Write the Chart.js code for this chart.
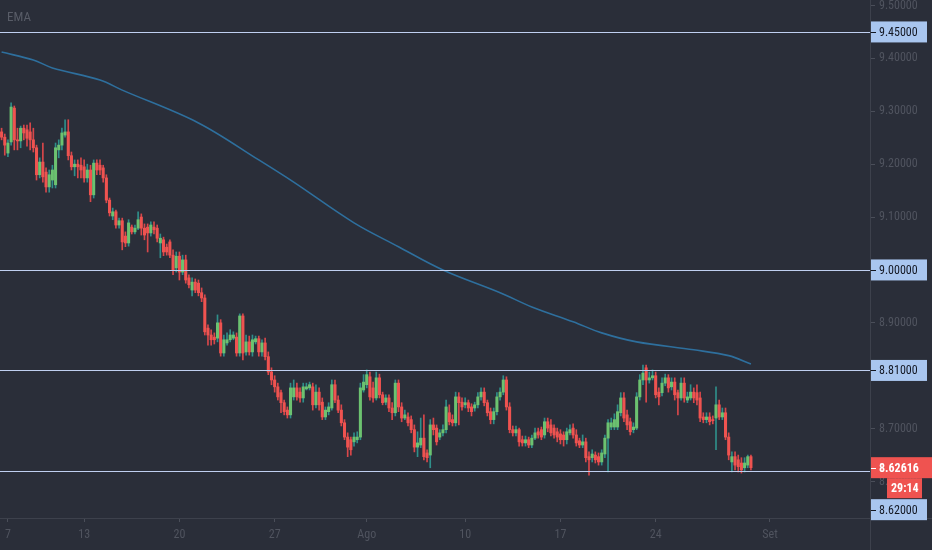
<!DOCTYPE html>
<html>
<head>
<meta charset="utf-8">
<title>EMA</title>
<script src="https://cdn.jsdelivr.net/npm/chart.js@4.4.0/dist/chart.umd.min.js"></script>
<style>
  html, body { margin: 0; padding: 0; background: #2a2e39; }
  #wrap { width: 932px; height: 550px; }
</style>
</head>
<body>
<div id="wrap"><canvas id="chart" width="932" height="550"></canvas></div>
<script>
// 4h candles, 7 Jul -> 31 Aug
const opens = [
  9.261,9.251,9.221,9.242,9.306,9.246,9.244,9.268,9.265,9.261,
  9.246,9.231,9.180,9.204,9.185,9.157,9.170,9.161,9.227,9.236,
  9.255,9.261,9.216,9.195,9.200,9.198,9.195,9.174,9.189,9.142,
  9.202,9.198,9.193,9.174,9.132,9.102,9.110,9.085,9.093,9.064,
  9.051,9.081,9.072,9.079,9.100,9.079,9.081,9.070,9.081,9.079,
  9.051,9.057,9.043,9.053,9.028,9.004,9.026,8.996,9.019,8.985,
  8.962,8.977,8.975,8.957,8.947,8.890,8.877,8.873,8.871,8.900,
  8.843,8.862,8.868,8.871,8.873,8.843,8.913,8.845,8.864,8.845,
  8.864,8.870,8.845,8.862,8.836,8.807,8.792,8.779,8.768,8.749,
  8.735,8.726,8.760,8.777,8.769,8.758,8.775,8.777,8.779,8.745,
  8.769,8.750,8.722,8.732,8.739,8.783,8.754,8.735,8.711,8.684,
  8.679,8.675,8.679,8.684,8.773,8.783,8.798,8.777,8.758,8.796,
  8.764,8.750,8.758,8.739,8.730,8.786,8.741,8.720,8.722,8.717,
  8.698,8.665,8.669,8.682,8.654,8.650,8.707,8.701,8.684,8.692,
  8.698,8.730,8.717,8.711,8.760,8.750,8.745,8.749,8.741,8.739,
  8.745,8.760,8.769,8.749,8.732,8.717,8.732,8.760,8.769,8.792,
  8.741,8.698,8.692,8.698,8.679,8.673,8.679,8.669,8.682,8.694,
  8.698,8.688,8.713,8.707,8.701,8.694,8.690,8.688,8.679,8.692,
  8.701,8.688,8.677,8.669,8.675,8.647,8.645,8.650,8.647,8.637,
  8.652,8.682,8.703,8.703,8.703,8.730,8.758,8.726,8.713,8.698,
  8.701,8.760,8.792,8.815,8.792,8.796,8.800,8.769,8.768,8.786,
  8.796,8.779,8.788,8.768,8.758,8.786,8.754,8.758,8.769,8.768,
  8.758,8.722,8.717,8.722,8.717,8.720,8.745,8.722,8.730,8.684,
  8.637,8.647,8.641,8.635,8.626,8.631,8.647
];
const highs = [
  9.268,9.257,9.246,9.316,9.310,9.268,9.272,9.274,9.274,9.278,
  9.268,9.236,9.212,9.240,9.193,9.189,9.198,9.240,9.246,9.268,
  9.284,9.284,9.223,9.208,9.208,9.212,9.208,9.200,9.198,9.208,
  9.208,9.208,9.198,9.180,9.136,9.117,9.113,9.098,9.098,9.072,
  9.095,9.085,9.085,9.110,9.106,9.087,9.087,9.091,9.091,9.085,
  9.068,9.062,9.049,9.057,9.038,9.034,9.034,9.028,9.028,8.991,
  8.985,8.983,8.981,8.966,8.953,8.896,8.887,8.881,8.915,8.906,
  8.877,8.881,8.887,8.883,8.881,8.917,8.917,8.877,8.875,8.877,
  8.875,8.875,8.868,8.871,8.845,8.815,8.800,8.786,8.773,8.754,
  8.741,8.786,8.792,8.786,8.777,8.786,8.786,8.788,8.786,8.783,
  8.777,8.758,8.741,8.749,8.792,8.792,8.762,8.745,8.717,8.692,
  8.684,8.692,8.694,8.786,8.802,8.811,8.807,8.788,8.807,8.803,
  8.769,8.764,8.764,8.749,8.792,8.792,8.749,8.735,8.730,8.724,
  8.707,8.694,8.720,8.726,8.660,8.717,8.720,8.707,8.698,8.707,
  8.754,8.745,8.726,8.769,8.768,8.758,8.758,8.754,8.747,8.750,
  8.768,8.777,8.777,8.754,8.739,8.739,8.768,8.777,8.800,8.798,
  8.749,8.705,8.705,8.701,8.686,8.686,8.684,8.688,8.701,8.701,
  8.703,8.720,8.720,8.717,8.707,8.701,8.698,8.694,8.701,8.707,
  8.709,8.698,8.682,8.688,8.682,8.656,8.660,8.656,8.654,8.660,
  8.688,8.717,8.720,8.728,8.745,8.768,8.768,8.735,8.720,8.711,
  8.768,8.802,8.820,8.820,8.807,8.811,8.807,8.777,8.796,8.803,
  8.802,8.796,8.796,8.773,8.796,8.796,8.769,8.783,8.777,8.783,
  8.769,8.730,8.730,8.730,8.724,8.779,8.754,8.739,8.739,8.692,
  8.656,8.656,8.650,8.645,8.645,8.650,8.650
];
const lows = [
  9.246,9.217,9.214,9.236,9.227,9.227,9.231,9.246,9.234,9.227,
  9.223,9.170,9.174,9.166,9.147,9.147,9.155,9.155,9.212,9.227,
  9.251,9.208,9.189,9.178,9.174,9.174,9.166,9.166,9.129,9.136,
  9.180,9.180,9.166,9.127,9.102,9.095,9.079,9.079,9.038,9.044,
  9.045,9.068,9.068,9.076,9.066,9.057,9.034,9.064,9.068,9.053,
  9.023,9.027,9.028,9.023,8.991,8.996,8.981,8.991,8.975,8.966,
  8.951,8.957,8.951,8.940,8.877,8.858,8.858,8.860,8.864,8.837,
  8.837,8.858,8.864,8.868,8.837,8.837,8.830,8.839,8.839,8.837,
  8.860,8.837,8.837,8.830,8.802,8.783,8.769,8.754,8.730,8.726,
  8.720,8.720,8.754,8.754,8.750,8.750,8.773,8.773,8.735,8.739,
  8.735,8.717,8.717,8.726,8.735,8.749,8.730,8.705,8.679,8.647,
  8.650,8.667,8.673,8.679,8.769,8.777,8.754,8.750,8.754,8.758,
  8.745,8.745,8.732,8.717,8.724,8.732,8.713,8.717,8.705,8.692,
  8.656,8.647,8.664,8.641,8.637,8.626,8.688,8.669,8.679,8.686,
  8.692,8.707,8.705,8.705,8.707,8.735,8.739,8.732,8.724,8.733,
  8.739,8.754,8.743,8.724,8.709,8.709,8.726,8.754,8.764,8.735,
  8.692,8.686,8.686,8.667,8.667,8.667,8.664,8.664,8.679,8.682,
  8.679,8.682,8.694,8.686,8.682,8.675,8.671,8.667,8.671,8.688,
  8.682,8.667,8.664,8.664,8.637,8.612,8.637,8.635,8.631,8.631,
  8.645,8.618,8.698,8.698,8.698,8.724,8.713,8.698,8.688,8.692,
  8.698,8.754,8.783,8.750,8.786,8.792,8.758,8.745,8.762,8.781,
  8.769,8.773,8.754,8.726,8.754,8.750,8.749,8.754,8.749,8.745,
  8.713,8.711,8.711,8.707,8.709,8.660,8.717,8.717,8.679,8.641,
  8.618,8.622,8.618,8.616,8.618,8.626,8.622
];
const closes = [
  9.251,9.236,9.240,9.308,9.246,9.244,9.268,9.259,9.249,9.246,
  9.231,9.180,9.204,9.176,9.157,9.180,9.189,9.231,9.236,9.259,
  9.261,9.216,9.195,9.200,9.195,9.189,9.174,9.189,9.142,9.202,
  9.189,9.189,9.174,9.132,9.108,9.110,9.085,9.093,9.053,9.051,
  9.089,9.072,9.079,9.095,9.079,9.066,9.070,9.085,9.076,9.060,
  9.060,9.034,9.034,9.028,9.000,9.026,8.996,9.019,8.981,8.972,
  8.977,8.962,8.957,8.947,8.883,8.877,8.868,8.868,8.900,8.843,
  8.868,8.868,8.877,8.877,8.843,8.913,8.843,8.864,8.845,8.868,
  8.870,8.845,8.862,8.836,8.807,8.792,8.779,8.760,8.749,8.732,
  8.726,8.777,8.777,8.760,8.758,8.779,8.779,8.783,8.745,8.769,
  8.745,8.722,8.735,8.741,8.783,8.754,8.735,8.711,8.684,8.665,
  8.660,8.684,8.684,8.777,8.788,8.802,8.760,8.758,8.796,8.764,
  8.749,8.758,8.739,8.730,8.786,8.741,8.720,8.726,8.711,8.698,
  8.665,8.673,8.682,8.647,8.645,8.707,8.698,8.675,8.692,8.698,
  8.741,8.713,8.711,8.760,8.749,8.741,8.749,8.739,8.732,8.745,
  8.760,8.769,8.749,8.730,8.717,8.732,8.760,8.769,8.792,8.741,
  8.698,8.692,8.698,8.675,8.673,8.679,8.669,8.682,8.692,8.688,
  8.684,8.713,8.701,8.692,8.688,8.684,8.679,8.679,8.694,8.698,
  8.688,8.673,8.669,8.675,8.645,8.641,8.652,8.641,8.637,8.654,
  8.682,8.711,8.711,8.717,8.732,8.758,8.720,8.707,8.694,8.703,
  8.760,8.792,8.805,8.792,8.796,8.800,8.764,8.760,8.786,8.796,
  8.777,8.788,8.764,8.758,8.786,8.758,8.760,8.769,8.758,8.754,
  8.720,8.717,8.722,8.713,8.715,8.745,8.722,8.730,8.684,8.650,
  8.647,8.631,8.628,8.622,8.635,8.647,8.62616
];

// EMA readings (candle index -> value)
const emaIdx = [0, 10, 16, 31, 38, 62, 81, 92, 111, 125, 139, 157, 167, 180, 189, 200, 218, 229, 236];
const emaVal = [9.412, 9.397, 9.382, 9.359, 9.340, 9.278, 9.208, 9.166, 9.089, 9.044, 9.000, 8.957, 8.930, 8.902, 8.881, 8.864, 8.849, 8.838, 8.822];

// horizontal price levels
const levels = [9.45, 9.00, 8.81, 8.62];

// time axis
const tickIdx = [2, 26, 56, 86, 115, 146, 176, 206, 242];
const tickText = ['7', '13', '20', '27', 'Ago', '10', '17', '24', 'Set'];

const countdown = '29:14';
const SLOTS = 274;

const FONT = "'Liberation Sans Narrow', 'Roboto Condensed', Roboto, sans-serif";
const BG = '#2a2e39';
const UP = '#6cc270', DOWN = '#ef5350';
const UP_WICK = '#2f8f8a', DOWN_WICK = '#d8474a';
const AXIS_TXT = '#50545f';
const LEVEL = '#bfcff0';
const LEVEL_BOX = '#a9c6ef';

const labels = Array.from({ length: SLOTS }, (_, i) => {
  const k = tickIdx.indexOf(i);
  return k >= 0 ? tickText[k] : '';
});
const pad = a => a.concat(Array(SLOTS - a.length).fill(null));
const isUp = i => closes[i] >= opens[i];

const wickData = pad(highs.map((h, i) => [lows[i], h]));
const bodyData = pad(opens.map((o, i) => [o, closes[i]]));
const emaData = Array(SLOTS).fill(null);
emaIdx.forEach((ix, k) => { emaData[ix] = emaVal[k]; });

function box(ctx, x, y, w, h, fill) {
  ctx.fillStyle = fill;
  ctx.fillRect(x, y, w, h);
}

const tvPlugin = {
  id: 'tv',
  beforeDraw(chart) {
    const ctx = chart.ctx;
    ctx.save();
    box(ctx, 0, 0, chart.width, chart.height, BG);
    ctx.restore();
  },
  afterDatasetsDraw(chart) {
    const ctx = chart.ctx, y = chart.scales.y, a = chart.chartArea;
    ctx.save();
    ctx.strokeStyle = LEVEL;
    ctx.lineWidth = 1;
    levels.forEach(v => {
      const py = Math.round(y.getPixelForValue(v)) + 0.5;
      ctx.beginPath();
      ctx.moveTo(a.left, py);
      ctx.lineTo(a.right, py);
      ctx.stroke();
    });
    ctx.fillStyle = '#585c67';
    ctx.font = "13px " + FONT;
    ctx.textBaseline = 'middle';
    ctx.fillText('EMA', 7, 18);
    ctx.restore();
  },
  afterDraw(chart) {
    const ctx = chart.ctx, y = chart.scales.y, a = chart.chartArea;
    const x0 = a.right, w = chart.width - a.right, h = 21;
    ctx.save();
    // frame lines
    ctx.strokeStyle = '#3d414c';
    ctx.lineWidth = 1;
    ctx.beginPath();
    ctx.moveTo(x0 + 0.5, 0); ctx.lineTo(x0 + 0.5, chart.height);
    ctx.moveTo(0, a.bottom + 0.5); ctx.lineTo(chart.width, a.bottom + 0.5);
    ctx.stroke();

    ctx.font = "12px " + FONT;
    ctx.textBaseline = 'middle';
    const last = closes[closes.length - 1];
    const curY = y.getPixelForValue(last);
    const curTop = curY - h / 2;
    const busyBottom = curTop + 2 * h;

    levels.forEach(v => {
      const py = y.getPixelForValue(v);
      let top = py - h / 2;
      if (top < busyBottom && top + h > curTop) top = busyBottom;
      box(ctx, x0 + 1, top, w - 6, h, LEVEL_BOX);
      ctx.fillStyle = '#131722';
      ctx.fillRect(x0 + 1, Math.round(top + h / 2), 5, 1);
      ctx.fillText(v.toFixed(5), x0 + 9, top + h / 2 + 1);
    });

    box(ctx, x0 + 1, curTop, w - 1, h, DOWN);
    ctx.fillStyle = '#ffffff';
    ctx.fillRect(x0 + 1, Math.round(curY), 5, 1);
    ctx.font = "bold 12px " + FONT;
    ctx.fillText(last.toFixed(5), x0 + 9, curY + 1);
    box(ctx, x0 + 17, curTop + h, 35, h - 1, DOWN);
    ctx.fillStyle = '#ffffff';
    ctx.fillText(countdown, x0 + 21, curTop + h + h / 2);
    ctx.restore();
  }
};

new Chart(document.getElementById('chart'), {
  type: 'bar',
  data: {
    labels: labels,
    datasets: [
      {
        type: 'line',
        label: 'EMA',
        data: emaData,
        spanGaps: true,
        borderColor: '#2e6f9d',
        borderWidth: 1.6,
        pointRadius: 0,
        tension: 0.35,
        order: 1
      },
      {
        label: 'body',
        data: bodyData,
        backgroundColor: c => isUp(c.dataIndex) ? UP : DOWN,
        barThickness: 2.4,
        minBarLength: 1,
        grouped: false,
        order: 2
      },
      {
        label: 'wick',
        data: wickData,
        backgroundColor: c => isUp(c.dataIndex) ? UP_WICK : DOWN_WICK,
        barThickness: 1,
        grouped: false,
        order: 3
      }
    ]
  },
  options: {
    responsive: false,
    animation: false,
    devicePixelRatio: 1,
    layout: { padding: 0 },
    plugins: { legend: { display: false }, tooltip: { enabled: false } },
    scales: {
      x: {
        offset: true,
        border: { display: false },
        grid: {
          offset: false,
          drawOnChartArea: false,
          tickLength: 4,
          color: c => (c.tick && c.tick.label) ? '#4a4e59' : 'transparent'
        },
        ticks: {
          autoSkip: false,
          maxRotation: 0,
          minRotation: 0,
          padding: 6,
          color: AXIS_TXT,
          font: { family: FONT, size: 12 },
          callback: (v, i) => labels[i]
        },
        afterFit: s => { s.height = 32; s.paddingLeft = 0; s.paddingRight = 0; }
      },
      y: {
        position: 'right',
        min: 8.531,
        max: 9.5104,
        border: { display: false },
        grid: { drawOnChartArea: false, tickLength: 5, color: '#4a4e59' },
        ticks: {
          stepSize: 0.1,
          includeBounds: false,
          padding: 4,
          color: AXIS_TXT,
          font: { family: FONT, size: 12 },
          callback: v => v.toFixed(5)
        },
        afterFit: s => { s.width = 62; s.paddingTop = 0; s.paddingBottom = 0; }
      }
    }
  },
  plugins: [tvPlugin]
});
</script>
</body>
</html>
